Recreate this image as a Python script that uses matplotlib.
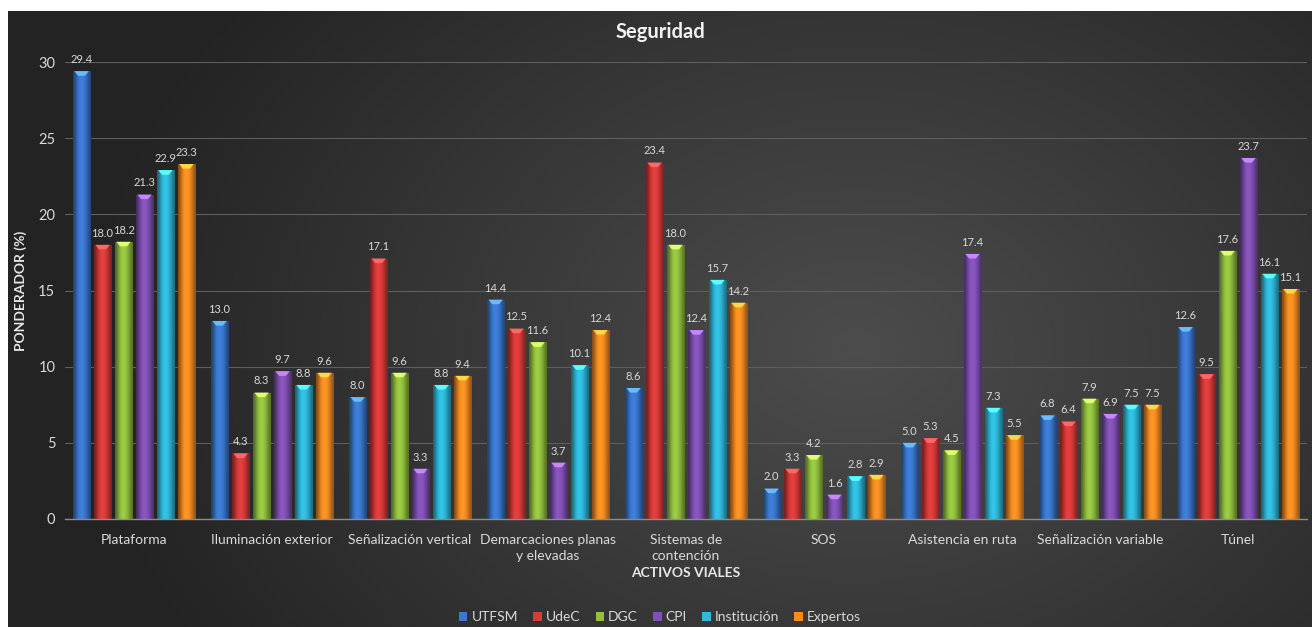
import matplotlib
matplotlib.use("Agg")

import matplotlib.pyplot as plt
import numpy as np
from matplotlib.colors import to_rgb

categories = [
    "Plataforma",
    "Iluminación exterior",
    "Señalización vertical",
    "Demarcaciones planas\ny elevadas",
    "Sistemas de\ncontención",
    "SOS",
    "Asistencia en ruta",
    "Señalización variable",
    "Túnel",
]
series_names = ["UTFSM", "UdeC", "DGC", "CPI", "Institución", "Expertos"]

utfsm = [29.4, 13.0, 8.0, 14.4, 8.6, 2.0, 5.0, 6.8, 12.6]
udec = [18.0, 4.3, 17.1, 12.5, 23.4, 3.3, 5.3, 6.4, 9.5]
dgc = [18.2, 8.3, 9.6, 11.6, 18.0, 4.2, 4.5, 7.9, 17.6]
cpi = [21.3, 9.7, 3.3, 3.7, 12.4, 1.6, 17.4, 6.9, 23.7]
institucion = [22.9, 8.8, 8.8, 10.1, 15.7, 2.8, 7.3, 7.5, 16.1]
expertos = [23.3, 9.6, 9.4, 12.4, 14.2, 2.9, 5.5, 7.5, 15.1]

yticks = [0, 5, 10, 15, 20, 25, 30]

colors = ["#3b78cf", "#d93a3a", "#93c13f", "#8251b5", "#2fb9db", "#f78d22"]

plt.rcParams["font.family"] = ["Lato", "DejaVu Sans"]

W, H = 1312, 627
fig = plt.figure(figsize=(W / 100, H / 100), dpi=100, facecolor="white")

# dark gradient background panel
bg = fig.add_axes([8 / W, 0, 1 - 8 / W, 1 - 11 / H], zorder=-2)
bg.axis("off")
gy, gx = np.mgrid[0:1:300j, 0:1:600j]
dist = np.sqrt(((gx - 0.65) * 1.6) ** 2 + ((gy - 0.55) * 1.0) ** 2)
shade = np.clip(0.30 - 0.17 * dist, 0.14, 0.30)
bg.imshow(np.dstack([shade, shade, shade]), extent=[0, 1, 0, 1], aspect="auto")
bg.set_xlim(0, 1)
bg.set_ylim(0, 1)

ax = fig.add_axes([65 / W, 1 - 519 / H, (1307 - 65) / W, (519 - 62) / H])
ax.set_facecolor("none")

all_series = [utfsm, udec, dgc, cpi, institucion, expertos]
x = np.arange(len(categories))
step = 0.152
width = 0.124
offsets = (np.arange(6) - 2.5) * step

grad = np.array([0.55, 0.8, 1.0, 1.08, 1.05, 0.95, 0.8, 0.6])
for vals, name, col, off in zip(all_series, series_names, colors, offsets):
    bars = ax.bar(x + off, vals, width, color=col, label=name, zorder=3,
                  edgecolor="none")
    base = np.array(to_rgb(col))
    img = np.clip(base[None, :] * grad[:, None], 0, 1)[None, :, :]
    for b, v in zip(bars, vals):
        bx, bw, bh = b.get_x(), b.get_width(), b.get_height()
        im = ax.imshow(img, extent=[bx, bx + bw, 0, bh], aspect="auto",
                       zorder=3.5, interpolation="bicubic")
        im.set_clip_path(b)
        cap = np.clip(base * 1.35 + 0.1, 0, 1)
        ax.fill([bx + bw * 0.08, bx + bw * 0.92, bx + bw * 0.7, bx + bw * 0.3],
                [bh, bh, bh - 0.3, bh - 0.3], color=cap, zorder=3.6, lw=0)
        ax.text(bx + bw / 2, bh + 0.4, f"{v:.1f}", ha="center", va="bottom",
                fontsize=8, color="#d9d9d9", zorder=4)

ax.set_xlim(-0.5, len(categories) - 0.5)
ax.set_ylim(0, 30)
ax.set_yticks(yticks)
ax.set_xticks(x)
ax.set_xticklabels(categories, fontsize=10, color="#d9d9d9", linespacing=1.35)
ax.tick_params(axis="y", labelsize=10.5, colors="#d9d9d9", length=0, pad=7)
ax.tick_params(axis="x", length=0, pad=11)
ax.grid(axis="y", color="#5e5e5e", lw=0.8, zorder=0)
for s in ["top", "right", "left"]:
    ax.spines[s].set_visible(False)
ax.spines["bottom"].set_color("#8c8c8c")
ax.spines["bottom"].set_linewidth(1.0)
ax.spines["bottom"].set_zorder(5)

ax.set_ylabel("PONDERADOR (%)", fontsize=10, fontweight="bold", color="#e6e6e6",
              labelpad=8)
ax.set_xlabel("ACTIVOS VIALES", fontsize=10, fontweight="bold", color="#e6e6e6",
              labelpad=4)

fig.text(660 / W, 1 - 32 / H, "Seguridad", ha="center", va="center",
         fontsize=14.5, fontweight="bold", color="#f2f2f2")

leg = fig.legend(loc="center", bbox_to_anchor=(660 / W, 1 - 617 / H), ncol=6,
                 frameon=False, fontsize=10, handlelength=0.6, handleheight=0.6,
                 handletextpad=0.3, columnspacing=1.1, labelcolor="#d9d9d9")

fig.savefig("out.png", dpi=100, facecolor=fig.get_facecolor())
